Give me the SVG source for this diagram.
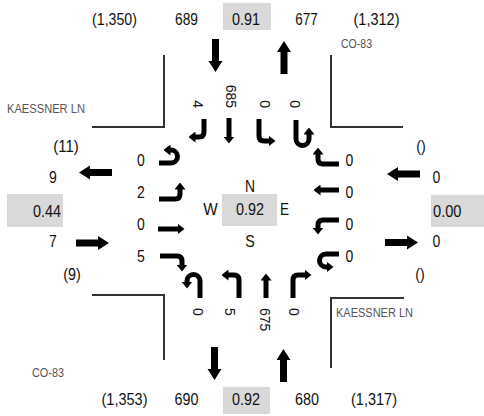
<svg xmlns="http://www.w3.org/2000/svg" width="484" height="416" viewBox="0 0 484 416">
<style>
.t{font-family:"Liberation Sans",Arial,sans-serif;font-size:17px;fill:#111}
.c{text-anchor:middle}
.r{font-family:"Liberation Sans",Arial,sans-serif;font-size:14px;fill:#111}
.st{font-family:"Liberation Sans",Arial,sans-serif;font-size:13px;fill:#555}
.box{fill:#d9d9d9}
.corner{fill:none;stroke:#333;stroke-width:2}
.lane{fill:none;stroke:#000;stroke-width:5;marker-end:url(#ah)}
.big{fill:#000}
</style>
<defs>
<marker id="ah" markerUnits="userSpaceOnUse" markerWidth="7" markerHeight="11" viewBox="0 0 7 11" refX="0.5" refY="5.5" orient="auto"><path d="M0,0 L7,5.5 L0,11 z" fill="#000"/></marker>
<path id="bigArrow" d="M0,-3.5 H22 V-7 L33,0 L22,7 V3.5 H0 Z"/>
</defs>
<rect width="484" height="416" fill="#fff"/>

<g id="corners">
<path class="corner" d="M164,55 V127 H92"/>
<path class="corner" d="M331,55 V127 H403"/>
<path class="corner" d="M92,295 H164 V360"/>
<path class="corner" d="M404,298 H331 V368"/>
</g>

<g id="street-labels">
<text class="st" x="7" y="113" textLength="78" lengthAdjust="spacingAndGlyphs">KAESSNER LN</text>
<text class="st" x="336" y="316.5" textLength="77" lengthAdjust="spacingAndGlyphs">KAESSNER LN</text>
<text class="st" x="341" y="48" textLength="31" lengthAdjust="spacingAndGlyphs">CO-83</text>
<text class="st" x="32" y="376.5" textLength="32" lengthAdjust="spacingAndGlyphs">CO-83</text>
</g>

<g id="north-leg">
<text class="t c" x="114.5" y="25" textLength="45" lengthAdjust="spacingAndGlyphs">(1,350)</text>
<text class="t c" x="186.5" y="25" textLength="23" lengthAdjust="spacingAndGlyphs">689</text>
<rect class="box" x="223" y="3" width="48" height="27"/>
<text class="t c" x="246" y="25" textLength="28" lengthAdjust="spacingAndGlyphs">0.91</text>
<text class="t c" x="306.5" y="25" textLength="22.5" lengthAdjust="spacingAndGlyphs">677</text>
<text class="t c" x="376.5" y="25" textLength="46" lengthAdjust="spacingAndGlyphs">(1,312)</text>
<use href="#bigArrow" class="big" transform="translate(215.5,39) rotate(90)"/>
<use href="#bigArrow" class="big" transform="translate(284,74) rotate(-90)"/>
</g>

<g id="south-leg">
<text class="t c" x="124.5" y="405" textLength="46" lengthAdjust="spacingAndGlyphs">(1,353)</text>
<text class="t c" x="186.5" y="405" textLength="24" lengthAdjust="spacingAndGlyphs">690</text>
<rect class="box" x="223" y="387" width="47" height="27"/>
<text class="t c" x="246" y="405" textLength="28" lengthAdjust="spacingAndGlyphs">0.92</text>
<text class="t c" x="307" y="405" textLength="24" lengthAdjust="spacingAndGlyphs">680</text>
<text class="t c" x="374" y="405" textLength="46" lengthAdjust="spacingAndGlyphs">(1,317)</text>
<use href="#bigArrow" class="big" transform="translate(214.5,347) rotate(90)"/>
<use href="#bigArrow" class="big" transform="translate(283.5,382) rotate(-90)"/>
</g>

<g id="west-leg">
<text class="t c" x="66" y="151.5" textLength="25.5" lengthAdjust="spacingAndGlyphs">(11)</text>
<text class="t c" x="53" y="183" textLength="7.8" lengthAdjust="spacingAndGlyphs">9</text>
<rect class="box" x="7" y="194" width="56" height="33"/>
<text class="t" x="61" y="216.5" text-anchor="end" textLength="28" lengthAdjust="spacingAndGlyphs">0.44</text>
<text class="t c" x="53" y="247" textLength="7.8" lengthAdjust="spacingAndGlyphs">7</text>
<text class="t c" x="72" y="279.5" textLength="17.5" lengthAdjust="spacingAndGlyphs">(9)</text>
<use href="#bigArrow" class="big" transform="translate(112,172.5) rotate(180)"/>
<use href="#bigArrow" class="big" transform="translate(76,243)"/>
</g>

<g id="east-leg">
<text class="t c" x="421" y="151.5" textLength="9.5" lengthAdjust="spacingAndGlyphs">()</text>
<text class="t c" x="436.5" y="183" textLength="7.8" lengthAdjust="spacingAndGlyphs">0</text>
<rect class="box" x="431" y="195" width="53" height="32"/>
<text class="t" x="433" y="216.5" textLength="28.5" lengthAdjust="spacingAndGlyphs">0.00</text>
<text class="t c" x="436.5" y="247" textLength="7.8" lengthAdjust="spacingAndGlyphs">0</text>
<text class="t c" x="420" y="279.5" textLength="9.5" lengthAdjust="spacingAndGlyphs">()</text>
<use href="#bigArrow" class="big" transform="translate(420,174) rotate(180)"/>
<use href="#bigArrow" class="big" transform="translate(385,242.5)"/>
</g>

<g id="center">
<text class="t c" x="250" y="192" textLength="10" lengthAdjust="spacingAndGlyphs">N</text>
<text class="t c" x="210.5" y="215" textLength="14.5" lengthAdjust="spacingAndGlyphs">W</text>
<rect class="box" x="222" y="194" width="55" height="32"/>
<text class="t c" x="250" y="215" textLength="28" lengthAdjust="spacingAndGlyphs">0.92</text>
<text class="t c" x="284.5" y="215" textLength="9" lengthAdjust="spacingAndGlyphs">E</text>
<text class="t c" x="250" y="247" textLength="9.5" lengthAdjust="spacingAndGlyphs">S</text>
</g>

<g id="southbound-lanes">
<text class="r" transform="translate(193,108) rotate(90)" text-anchor="end">4</text>
<text class="r" transform="translate(226,108) rotate(90)" text-anchor="end">685</text>
<text class="r" transform="translate(260,108) rotate(90)" text-anchor="end">0</text>
<text class="r" transform="translate(290,108) rotate(90)" text-anchor="end">0</text>
</g>

<g id="westbound-lanes">
<text class="t c" x="349.5" y="166" textLength="7.8" lengthAdjust="spacingAndGlyphs">0</text>
<text class="t c" x="349.5" y="198" textLength="7.8" lengthAdjust="spacingAndGlyphs">0</text>
<text class="t c" x="349.5" y="230" textLength="7.8" lengthAdjust="spacingAndGlyphs">0</text>
<text class="t c" x="349.5" y="262" textLength="7.8" lengthAdjust="spacingAndGlyphs">0</text>
</g>

<g id="eastbound-lanes">
<text class="t c" x="141" y="166" textLength="7.8" lengthAdjust="spacingAndGlyphs">0</text>
<text class="t c" x="141" y="198" textLength="7.8" lengthAdjust="spacingAndGlyphs">2</text>
<text class="t c" x="141" y="230" textLength="7.8" lengthAdjust="spacingAndGlyphs">0</text>
<text class="t c" x="141" y="262" textLength="7.8" lengthAdjust="spacingAndGlyphs">5</text>
</g>

<g id="northbound-lanes">
<text class="r" transform="translate(193,308) rotate(90)">0</text>
<text class="r" transform="translate(225,308) rotate(90)">5</text>
<text class="r" transform="translate(260,308) rotate(90)">675</text>
<text class="r" transform="translate(289,308) rotate(90)">0</text>
</g>

<g id="connectors">
<path class="lane" d="M204,119 V132 Q204,137 199,137 H195"/>
<path class="lane" d="M229,118 V137"/>
<path class="lane" d="M259,119 V136 Q259,141 264,141 H269"/>
<path class="lane" d="M296,120 V139 A6.5,6.5 0 0 0 309,139 V134"/>

<path class="lane" d="M339,164 H323 Q318,164 318,159 V154"/>
<path class="lane" d="M339,190 H320"/>
<path class="lane" d="M339,220 H323 Q318,220 318,225 V228"/>
<path class="lane" d="M339,254 H326 A6.5,6.5 0 0 0 326,267 H327"/>

<path class="lane" d="M159,163 H171 A6.5,6.5 0 0 0 171,150 H170"/>
<path class="lane" d="M159,199 H175 Q180,199 180,194 V189"/>
<path class="lane" d="M158,229 H178"/>
<path class="lane" d="M160,256 H177 Q182,256 182,261 V265"/>

<path class="lane" d="M200,298 V281 A6.5,6.5 0 0 0 187,281 V282"/>
<path class="lane" d="M239,298 V280 Q239,275 234,275 H228"/>
<path class="lane" d="M266,298 V280"/>
<path class="lane" d="M293,298 V280 Q293,275 298,275 H305"/>
</g>
</svg>
